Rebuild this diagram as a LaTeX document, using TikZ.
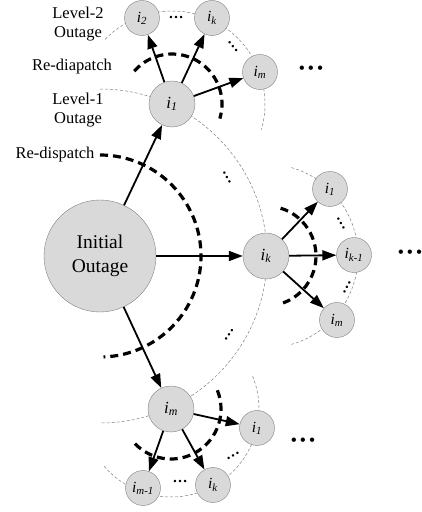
\documentclass[tikz,border=0pt]{standalone}
\usepackage{fontspec}
\setmainfont{Liberation Serif}
\usetikzlibrary{arrows.meta,backgrounds}

\newcommand{\bigdots}{\textbullet\hspace{3.5pt}\textbullet\hspace{3.5pt}\textbullet}

\begin{document}
\begin{tikzpicture}[x=1pt,y=1pt,
  outage/.style={circle,draw=black!50,fill=black!15,inner sep=0pt},
  init/.style={outage,minimum size=112pt,align=center,font=\fontsize{19.5}{24}\selectfont},
  first/.style={outage,minimum size=46pt,font=\fontsize{17}{18}\selectfont\itshape},
  second/.style={outage,minimum size=35pt,font=\fontsize{15.5}{17}\selectfont\itshape},
  lbl/.style={align=center,font=\fontsize{16.5}{19}\selectfont},
  dots/.style={inner sep=0pt,font=\fontsize{15}{17}\selectfont\bfseries},
  more/.style={inner sep=0pt,font=\fontsize{16}{17}\selectfont\bfseries},
  level/.style={black!50,line width=0.5pt,dash pattern=on 3pt off 2pt},
  redisp/.style={line width=3.2pt,dash pattern=on 8pt off 5pt},
  arr/.style={-{Triangle[length=14pt,width=10pt]},line width=1.8pt}]

  \useasboundingbox (0,0) rectangle (421,512);

  \node[init] (init) at (100,256) {Initial\\Outage};

  \node[first] (a) at (172,408) {i\textsubscript{1}};
  \node[first] (b) at (266,256) {i\textsubscript{k}};
  \node[first] (c) at (171,103) {i\textsubscript{m}};

  \node[second] (a1) at (142,494) {i\textsubscript{2}};
  \node[second] (a2) at (212,494) {i\textsubscript{k}};
  \node[second] (a3) at (260,440) {i\textsubscript{m}};

  \node[second] (b1) at (330,323) {i\textsubscript{1}};
  \node[second] (b2) at (354,257) {i\textsubscript{k-1}};
  \node[second] (b3) at (337,192) {i\textsubscript{m}};

  \node[second] (c1) at (257,84) {i\textsubscript{1}};
  \node[second] (c2) at (213,27) {i\textsubscript{k}};
  \node[second] (c3) at (143,24) {i\textsubscript{m-1}};

  % labels on the left
  \node[lbl] (lvtwo) at (78,488) {Level-2\\Outage};
  \node[lbl] (rdtwo) at (72,445) {Re-diapatch};
  \node[lbl] (lvone) at (78,402) {Level-1\\Outage};
  \node[lbl] (rdone) at (55,357) {Re-dispatch};

  % omitted outages
  \node[dots] (da) at (176,494) {\ldots};
  \node[dots,rotate=-50] (db) at (233,465) {\ldots};
  \node[dots,rotate=-60] (dc) at (227,335) {\ldots};
  \node[dots,rotate=55] (dd) at (229,177) {\ldots};
  \node[dots,rotate=-60] (de) at (341,289) {\ldots};
  \node[dots,rotate=62] (df) at (347,225) {\ldots};
  \node[dots,rotate=30] (dg) at (233,56) {\ldots};
  \node[dots] (dh) at (180,31) {\ldots};

  \node[more] (ma) at (311,442) {\bigdots};
  \node[more] (mb) at (410,258) {\bigdots};
  \node[more] (mc) at (303,70) {\bigdots};

  \begin{scope}[on background layer]
    \draw[level] (init.center) ++(90:167) arc[start angle=90,end angle=-90,radius=167];
    \draw[level] (a.center) ++(136:93) arc[start angle=136,end angle=-16,radius=93];
    \draw[level] (b.center) ++(74:92) arc[start angle=74,end angle=-74,radius=92];
    \draw[level] (c.center) ++(22:88) arc[start angle=22,end angle=-140,radius=88];
  \end{scope}

  \path[arr]
    (init) edge (a) edge (b) edge (c)
    (a) edge (a1) edge (a2) edge (a3)
    (b) edge (b1) edge (b2) edge (b3)
    (c) edge (c1) edge (c2) edge (c3);

  \draw[redisp] (init.center) ++(90:101) arc[start angle=90,end angle=-88,radius=101];
  \draw[redisp] (a.center) ++(139:50) arc[start angle=139,end angle=-17,radius=50];
  \draw[redisp] (b.center) ++(73:50) arc[start angle=73,end angle=-70,radius=50];
  \draw[redisp] (c.center) ++(22:50) arc[start angle=22,end angle=-140,radius=50];

\end{tikzpicture}
\end{document}
